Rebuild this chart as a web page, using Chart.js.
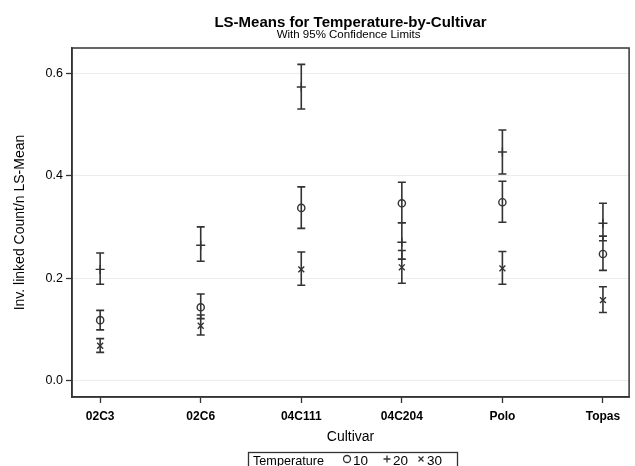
<!DOCTYPE html>
<html>
<head>
<meta charset="utf-8">
<script src="https://cdn.jsdelivr.net/npm/chart.js@4"></script>
<style>
  html, body { margin: 0; padding: 0; background: #fff; }
  #caja { width: 635px; height: 466px; position: relative; }
</style>
</head>
<body>
<div id="caja"><canvas id="grafico"></canvas></div>
<script>
// Datos
const cultivares = ["02C3", "02C6", "04C111", "04C204", "Polo", "Topas"];
const temperaturas = ["10", "20", "30"];
const ticksY = [0.0, 0.2, 0.4, 0.6];

const media10 = [0.118, 0.143, 0.337, 0.346, 0.348, 0.247];
const inferior10 = [0.099, 0.121, 0.297, 0.308, 0.309, 0.215];
const superior10 = [0.137, 0.169, 0.378, 0.387, 0.389, 0.282];

const media20 = [0.217, 0.264, 0.573, 0.270, 0.446, 0.307];
const inferior20 = [0.188, 0.233, 0.530, 0.237, 0.403, 0.273];
const superior20 = [0.249, 0.300, 0.617, 0.308, 0.489, 0.346];

const media30 = [0.068, 0.107, 0.217, 0.221, 0.219, 0.157];
const inferior30 = [0.055, 0.089, 0.186, 0.190, 0.188, 0.133];
const superior30 = [0.082, 0.128, 0.251, 0.254, 0.252, 0.183];

const TINTA = "#333";
const FUENTE = "'Liberation Sans', Arial, sans-serif";

const series = [
    { label: temperaturas[0], media: media10, inf: inferior10, sup: superior10, estilo: "circle", radio: 3.6 },
    { label: temperaturas[1], media: media20, inf: inferior20, sup: superior20, estilo: "cross", radio: 4.5 },
    { label: temperaturas[2], media: media30, inf: inferior30, sup: superior30, estilo: "crossRot", radio: 4.2 }
];

const datasets = series.map(s => ({
    label: s.label,
    data: s.media.map((v, i) => ({ x: i, y: v })),
    pointStyle: s.estilo,
    pointRadius: s.radio,
    pointBorderColor: TINTA,
    pointBackgroundColor: "rgba(0,0,0,0)",
    pointBorderWidth: 1.4,
    showLine: false
}));

// Barras de error (límites de confianza) usando las escalas del gráfico
const barrasError = {
    id: "barrasError",
    beforeDatasetsDraw(chart) {
        const ctx = chart.ctx;
        const x = chart.scales.x, y = chart.scales.y;
        ctx.save();
        ctx.strokeStyle = TINTA;
        ctx.lineWidth = 1.6;
        series.forEach(s => {
            s.media.forEach((m, i) => {
                const px = x.getPixelForValue(i);
                const p1 = y.getPixelForValue(s.inf[i]);
                const p2 = y.getPixelForValue(s.sup[i]);
                ctx.beginPath();
                ctx.moveTo(px, p1); ctx.lineTo(px, p2);
                ctx.moveTo(px - 4, p1); ctx.lineTo(px + 4, p1);
                ctx.moveTo(px - 4, p2); ctx.lineTo(px + 4, p2);
                ctx.stroke();
            });
        });
        ctx.restore();
    }
};

// Marco, títulos y leyenda
const textos = {
    id: "textos",
    afterDraw(chart) {
        const ctx = chart.ctx;
        const a = chart.chartArea;
        const centro = (a.left + a.right) / 2;
        ctx.save();
        ctx.strokeStyle = TINTA;
        ctx.lineWidth = 1.5;
        ctx.strokeRect(a.left, a.top, a.right - a.left, a.bottom - a.top);

        ctx.fillStyle = "#000";
        ctx.textAlign = "center";
        ctx.textBaseline = "alphabetic";
        ctx.font = "bold 15px " + FUENTE;
        ctx.fillText("LS-Means for Temperature-by-Cultivar", centro, 27);
        ctx.font = "11.5px " + FUENTE;
        ctx.fillText("With 95% Confidence Limits", centro - 2, 38);

        ctx.font = "14px " + FUENTE;
        ctx.textBaseline = "middle";
        ctx.fillText("Cultivar", centro, 437);

        ctx.save();
        ctx.translate(20, (a.top + a.bottom) / 2);
        ctx.rotate(-Math.PI / 2);
        ctx.fillText("Inv. linked Count/n LS-Mean", 0, 0);
        ctx.restore();

        // Leyenda
        ctx.lineWidth = 1.3;
        ctx.strokeRect(248.5, 452.5, 209, 20);
        ctx.textAlign = "left";
        ctx.font = "13.5px " + FUENTE;
        ctx.fillText("Temperature", 253, 461, 71);
        const posX = [347, 387, 421];
        series.forEach((s, k) => {
            ctx.strokeStyle = TINTA;
            ctx.fillStyle = "rgba(0,0,0,0)";
            Chart.helpers.drawPoint(ctx, { pointStyle: s.estilo, radius: 3.5, rotation: 0, borderWidth: 1.4 }, posX[k], 459);
            ctx.fillStyle = "#000";
            ctx.fillText(s.label, posX[k] + 6, 461);
        });
        ctx.restore();
    }
};

new Chart(document.getElementById("grafico"), {
    type: "scatter",
    data: { datasets },
    options: {
        responsive: true,
        maintainAspectRatio: false,
        animation: false,
        layout: { padding: { top: 48, right: 4, left: 0, bottom: 0 } },
        plugins: { legend: { display: false }, tooltip: { enabled: false } },
        scales: {
            x: {
                type: "linear",
                min: -0.28,
                max: 5.26,
                afterFit: s => { s.height = 69; },
                afterBuildTicks: s => { s.ticks = cultivares.map((c, i) => ({ value: i })); },
                grid: { drawOnChartArea: false, tickColor: TINTA, tickLength: 6, tickWidth: 1.3 },
                border: { color: TINTA, width: 1.5 },
                ticks: {
                    color: "#000",
                    padding: 6,
                    maxRotation: 0,
                    font: { family: FUENTE, size: 12, weight: "bold" },
                    callback: v => cultivares[v]
                }
            },
            y: {
                min: -0.032,
                max: 0.649,
                afterFit: s => { s.width = 72; },
                afterBuildTicks: s => { s.ticks = ticksY.map(v => ({ value: v })); },
                grid: { color: "#ececec", tickColor: TINTA, tickLength: 6, tickWidth: 1.3 },
                border: { color: TINTA, width: 1.5 },
                ticks: {
                    color: "#000",
                    padding: 3,
                    font: { family: FUENTE, size: 12.5 },
                    callback: v => v.toFixed(1)
                }
            }
        }
    },
    plugins: [barrasError, textos]
});
</script>
</body>
</html>
